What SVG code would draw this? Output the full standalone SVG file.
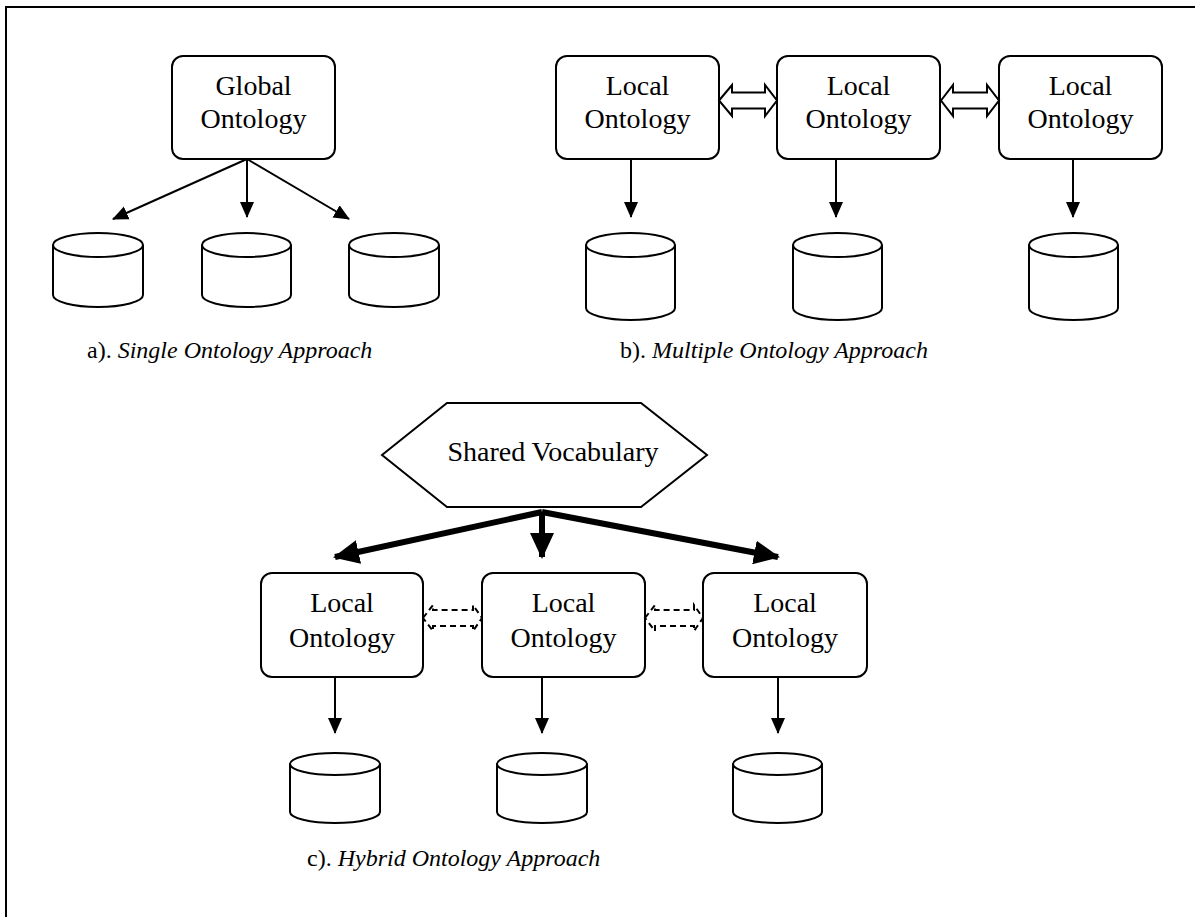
<svg xmlns="http://www.w3.org/2000/svg" width="1195" height="917" viewBox="0 0 1195 917">
<style>
.box{fill:#fff;stroke:#000;stroke-width:2}
.cyl{fill:#fff;stroke:#000;stroke-width:2}
.t{font-family:"Liberation Serif","Times New Roman",serif;font-size:28px;fill:#000;text-anchor:middle}
.cap{font-family:"Liberation Serif","Times New Roman",serif;font-size:24px;fill:#000}
.ln{stroke:#000;stroke-width:2;fill:none}
.thick{stroke:#000;stroke-width:6;fill:none}
.dbl{fill:#fff;stroke:#000;stroke-width:2;stroke-linejoin:miter}
.dash{fill:#fff;stroke:#000;stroke-width:2;stroke-dasharray:6 4}
</style>
<defs>
<marker id="ah" markerUnits="userSpaceOnUse" markerWidth="16" markerHeight="16" viewBox="0 0 16 16" refX="15" refY="8" orient="auto">
<path d="M0,1 L16,8 L0,15 Z" fill="#000"/>
</marker>
<marker id="ahb" markerUnits="userSpaceOnUse" markerWidth="26" markerHeight="24" viewBox="0 0 26 24" refX="24" refY="12" orient="auto">
<path d="M0,0 L26,12 L0,24 Z" fill="#000"/>
</marker>
</defs>
<rect width="1195" height="917" fill="#fff"/>
<path d="M6,917 L6,7 L1195,7" fill="none" stroke="#000" stroke-width="2"/>

<!-- a) -->
<g id="global">
<rect class="box" x="172" y="56" width="163" height="103" rx="11"/>
<text class="t" x="253.5" y="95">Global</text>
<text class="t" x="253.5" y="128">Ontology</text>
</g>
<g id="a-db1"><path class="cyl" d="M53,245 A45,12 0 0 1 143,245 L143,295 A45,12 0 0 1 53,295 Z M53,245 A45,12 0 0 0 143,245"/></g>
<g id="a-db2"><path class="cyl" d="M202,245 A44.5,12 0 0 1 291,245 L291,295 A44.5,12 0 0 1 202,295 Z M202,245 A44.5,12 0 0 0 291,245"/></g>
<g id="a-db3"><path class="cyl" d="M349,245 A45,12 0 0 1 439,245 L439,295 A45,12 0 0 1 349,295 Z M349,245 A45,12 0 0 0 439,245"/></g>
<text id="cap-a" class="cap" x="87" y="358">a). <tspan font-style="italic">Single Ontology Approach</tspan></text>

<!-- b) -->
<g id="b-local1">
<rect class="box" x="556" y="56" width="163" height="103" rx="11"/>
<text class="t" x="637.5" y="95">Local</text>
<text class="t" x="637.5" y="128">Ontology</text>
</g>
<g id="b-local2">
<rect class="box" x="777" y="56" width="163" height="103" rx="11"/>
<text class="t" x="858.5" y="95">Local</text>
<text class="t" x="858.5" y="128">Ontology</text>
</g>
<g id="b-local3">
<rect class="box" x="999" y="56" width="163" height="103" rx="11"/>
<text class="t" x="1080.5" y="95">Local</text>
<text class="t" x="1080.5" y="128">Ontology</text>
</g>
<g id="b-db1"><path class="cyl" d="M586,245 A44.5,12 0 0 1 675,245 L675,308 A44.5,12 0 0 1 586,308 Z M586,245 A44.5,12 0 0 0 675,245"/></g>
<g id="b-db2"><path class="cyl" d="M793,245 A44.5,12 0 0 1 882,245 L882,308 A44.5,12 0 0 1 793,308 Z M793,245 A44.5,12 0 0 0 882,245"/></g>
<g id="b-db3"><path class="cyl" d="M1029,245 A44.5,12 0 0 1 1118,245 L1118,308 A44.5,12 0 0 1 1029,308 Z M1029,245 A44.5,12 0 0 0 1118,245"/></g>
<text id="cap-b" class="cap" x="620" y="358">b). <tspan font-style="italic">Multiple Ontology Approach</tspan></text>

<!-- c) -->
<g id="shared">
<polygon class="box" points="382,455 447,403 641,403 707,455 641,507 447,507"/>
<text class="t" x="553" y="461" font-size="29">Shared Vocabulary</text>
</g>
<g id="c-local1">
<rect class="box" x="261" y="573" width="162" height="104" rx="11"/>
<text class="t" x="342" y="612">Local</text>
<text class="t" x="342" y="647">Ontology</text>
</g>
<g id="c-local2">
<rect class="box" x="482" y="573" width="163" height="104" rx="11"/>
<text class="t" x="563.5" y="612">Local</text>
<text class="t" x="563.5" y="647">Ontology</text>
</g>
<g id="c-local3">
<rect class="box" x="703" y="573" width="164" height="104" rx="11"/>
<text class="t" x="785" y="612">Local</text>
<text class="t" x="785" y="647">Ontology</text>
</g>
<g id="c-db1"><path class="cyl" d="M290,764 A45,11 0 0 1 380,764 L380,812 A45,11 0 0 1 290,812 Z M290,764 A45,11 0 0 0 380,764"/></g>
<g id="c-db2"><path class="cyl" d="M497,764 A45,11 0 0 1 587,764 L587,812 A45,11 0 0 1 497,812 Z M497,764 A45,11 0 0 0 587,764"/></g>
<g id="c-db3"><path class="cyl" d="M733,764 A44.5,11 0 0 1 822,764 L822,812 A44.5,11 0 0 1 733,812 Z M733,764 A44.5,11 0 0 0 822,764"/></g>
<text id="cap-c" class="cap" x="307" y="866">c). <tspan font-style="italic">Hybrid Ontology Approach</tspan></text>

<g id="connectors">
<line class="ln" x1="247" y1="159" x2="113" y2="219" marker-end="url(#ah)"/>
<line class="ln" x1="247" y1="159" x2="247" y2="217" marker-end="url(#ah)"/>
<line class="ln" x1="247" y1="159" x2="349" y2="219" marker-end="url(#ah)"/>

<line class="ln" x1="631" y1="159" x2="631" y2="217" marker-end="url(#ah)"/>
<line class="ln" x1="836" y1="159" x2="836" y2="217" marker-end="url(#ah)"/>
<line class="ln" x1="1073" y1="159" x2="1073" y2="217" marker-end="url(#ah)"/>
<polygon class="dbl" points="719,100.5 732,85 732,92.5 765,92.5 765,85 777,100.5 765,116 765,108.5 732,108.5 732,116"/>
<polygon class="dbl" points="941,100.5 953,85 953,92.5 987,92.5 987,85 999,100.5 987,116 987,108.5 953,108.5 953,116"/>

<line class="thick" x1="542" y1="512" x2="335" y2="557" marker-end="url(#ahb)"/>
<line class="thick" x1="542" y1="512" x2="542" y2="557" marker-end="url(#ahb)"/>
<line class="thick" x1="542" y1="512" x2="778" y2="557" marker-end="url(#ahb)"/>
<polygon class="dash" points="423,618 433,605 433,610 473,610 473,605 482,618 473,631 473,626 433,626 433,631"/>
<polygon class="dash" points="645,618 655,605 655,610 694,610 694,605 703,618 694,631 694,626 655,626 655,631"/>

<line class="ln" x1="335" y1="677" x2="335" y2="733" marker-end="url(#ah)"/>
<line class="ln" x1="542" y1="677" x2="542" y2="733" marker-end="url(#ah)"/>
<line class="ln" x1="778" y1="677" x2="778" y2="733" marker-end="url(#ah)"/>
</g>
</svg>
